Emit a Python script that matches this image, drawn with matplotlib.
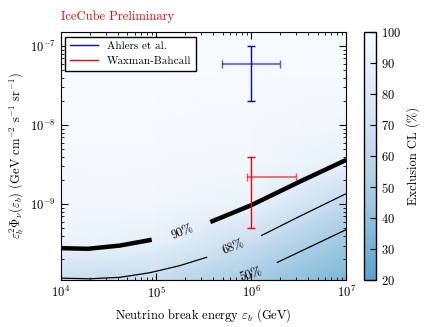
import numpy as np
import matplotlib
matplotlib.use('Agg')
import matplotlib.pyplot as plt
from matplotlib.colors import LinearSegmentedColormap
from matplotlib.ticker import NullFormatter, FixedLocator

plt.rcParams['font.family'] = 'serif'
plt.rcParams['font.serif'] = ['cmr10', 'DejaVu Serif']
plt.rcParams['mathtext.fontset'] = 'cm'
plt.rcParams['axes.formatter.use_mathtext'] = True
plt.rcParams['axes.unicode_minus'] = False

# Exclusion CL grid (percent), rows = log10 flux, cols = log10 energy
grid_logE = [4.0, 5.0, 6.0, 7.0]
grid_logF = [-10.0, -9.5, -9.0, -8.5, -8.0, -7.5, -7.0, -6.5]
grid_cl = [
    [64, 62, 47, 33],
    [91, 87, 66, 44],
    [96, 95, 90, 61],
    [98, 98, 96, 87],
    [99, 99, 98, 95],
    [100, 100, 99, 98],
    [100, 100, 100, 100],
    [100, 100, 100, 100],
]

# contour lines (energy GeV, flux)
c90_a_E = [1e4, 1.92e4, 4.16e4, 9.0e4]
c90_a_F = [2.78e-10, 2.73e-10, 3.0e-10, 3.55e-10]
c90_b_E = [3.72e5, 1e6, 3.22e6, 1e7]
c90_b_F = [5.95e-10, 9.7e-10, 1.92e-9, 3.63e-9]
c68_a_E = [1e4, 2.0e4, 4.16e4, 8.6e4, 1.77e5, 3.4e5]
c68_a_F = [1.16e-10, 1.14e-10, 1.19e-10, 1.36e-10, 1.67e-10, 2.13e-10]
c68_b_E = [1.29e6, 3.22e6, 1e7]
c68_b_F = [4.03e-10, 7.0e-10, 1.36e-9]
c50_E = [1.89e6, 1e7]
c50_F = [1.84e-10, 4.77e-10]

# model points
ahlers = dict(E=1e6, F=5.9e-8, E_lo=4.95e5, E_hi=2.0e6, F_lo=2.0e-8, F_hi=1.0e-7)
wb = dict(E=1e6, F=2.2e-9, E_lo=9.1e5, E_hi=3.0e6, F_lo=5.0e-10, F_hi=4.0e-9)

y_major = [1e-9, 1e-8, 1e-7]

cmap = LinearSegmentedColormap.from_list('cl', plt.cm.Blues(np.linspace(0.55, 0.0, 256)))

fig = plt.figure(figsize=(4.36, 3.27), dpi=100)
ax = fig.add_axes([0.140, 0.1437, 0.654, 0.758])
cax = fig.add_axes([0.835, 0.1437, 0.0275, 0.758])

EE, FF = np.meshgrid(10.0 ** np.array(grid_logE), 10.0 ** np.array(grid_logF))
mesh = ax.pcolormesh(EE, FF, np.array(grid_cl, dtype=float), cmap=cmap,
                     vmin=20, vmax=100, shading='gouraud', rasterized=True)

ax.plot(c90_a_E, c90_a_F, color='black', lw=3.2, solid_capstyle='butt')
ax.plot(c90_b_E, c90_b_F, color='black', lw=3.2, solid_capstyle='butt')
ax.plot(c68_a_E, c68_a_F, color='black', lw=0.9)
ax.plot(c68_b_E, c68_b_F, color='black', lw=0.9)
ax.plot(c50_E, c50_F, color='black', lw=0.9)

ax.text(1.9e5, 4.4e-10, '90%', rotation=22, ha='center', va='center', fontsize=9)
ax.text(6.5e5, 2.83e-10, '68%', rotation=22, ha='center', va='center', fontsize=9)
ax.text(1.0e6, 1.28e-10, '50%', rotation=18, ha='center', va='center', fontsize=9)

for p, c in [(ahlers, 'blue'), (wb, 'red')]:
    ax.errorbar([p['E']], [p['F']], yerr=[[p['F'] - p['F_lo']], [p['F_hi'] - p['F']]],
                color=c, lw=1, capsize=3, capthick=1)
    ax.errorbar([p['E']], [p['F']], xerr=[[p['E'] - p['E_lo']], [p['E_hi'] - p['E']]],
                color=c, lw=1.2, capsize=3, capthick=1, alpha=0.65)

ax.plot([], [], color='blue', lw=1, label='Ahlers et al.')
ax.plot([], [], color='red', lw=1, label='Waxman-Bahcall')
leg = ax.legend(loc='upper left', fontsize=8, fancybox=False, framealpha=1,
                edgecolor='black', borderaxespad=0.4, handlelength=2.5)
leg.get_frame().set_linewidth(1)

ax.set_xscale('log')
ax.set_yscale('log')
ax.set_xlim(1e4, 1e7)
ax.set_ylim(1.1e-10, 1.5e-7)
ax.yaxis.set_major_locator(FixedLocator(y_major))
ax.xaxis.set_minor_formatter(NullFormatter())
ax.yaxis.set_minor_formatter(NullFormatter())
ax.tick_params(which='both', direction='in', top=True, right=True, labelsize=9)
ax.tick_params(which='major', length=5)
ax.tick_params(which='minor', length=2.5)
ax.set_xlabel(r'Neutrino break energy $\varepsilon_b$ (GeV)', fontsize=9)
ax.set_ylabel(r'$\varepsilon_b^2\Phi_\nu(\varepsilon_b)$ (GeV cm$^{-2}$ s$^{-1}$ sr$^{-1}$)', fontsize=9)
ax.text(0.0, 1.035, 'IceCube Preliminary', color='red', transform=ax.transAxes,
        fontsize=9, ha='left', va='bottom')

cb = fig.colorbar(mesh, cax=cax, ticks=np.arange(20, 101, 10))
cb.ax.tick_params(direction='in', labelsize=9, length=4)
cb.set_label('Exclusion CL (%)', fontsize=9)
cb.outline.set_linewidth(1)

fig.savefig('out.png', dpi=100)
